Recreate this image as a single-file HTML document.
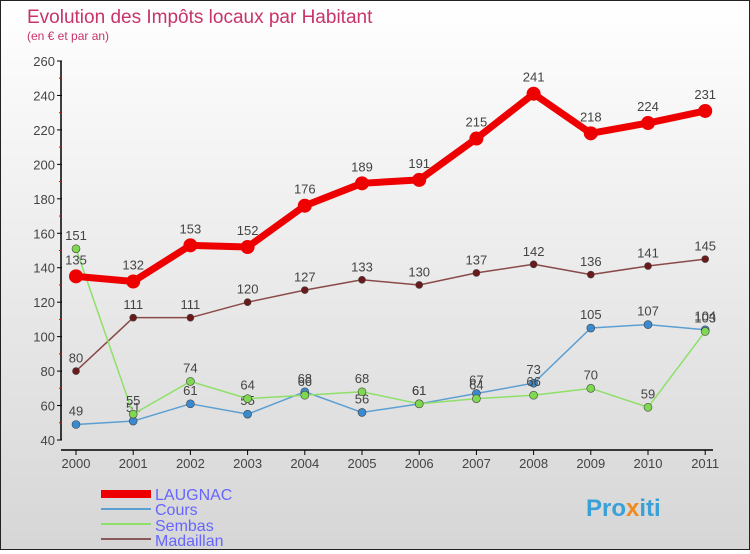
<!DOCTYPE html>
<html><head><meta charset="utf-8"><style>
body{margin:0;width:750px;height:550px;overflow:hidden;font-family:"Liberation Sans",sans-serif}
#wrap{position:relative;width:748px;height:548px;border:1px solid #222;background:linear-gradient(#ffffff,#d6d6d6)}
svg text{font-family:"Liberation Sans",sans-serif}
</style></head><body>
<div id="wrap">
<svg id="chart" width="748" height="548">
<text x="26" y="22" font-size="19" fill="#c8336a">Evolution des Impôts locaux par Habitant</text>
<text x="26" y="39" font-size="12" fill="#c8336a">(en € et par an)</text>
<rect x="100" y="489" width="50" height="8" fill="#e00"/>
<text x="154" y="499" font-size="16" fill="#6666ff">LAUGNAC</text>
<rect x="100" y="507" width="50" height="2" fill="#5c9fd2"/>
<text x="154" y="514" font-size="16" fill="#6666ff">Cours</text>
<rect x="100" y="522" width="50" height="2" fill="#8ee068"/>
<text x="154" y="530" font-size="16" fill="#6666ff">Sembas</text>
<rect x="100" y="537" width="50" height="2" fill="#8a5a5a"/>
<text x="154" y="545" font-size="16" fill="#6666ff">Madaillan</text>
<text x="585" y="515" font-size="24" font-weight="bold" fill="#3aa0d8">Pro<tspan fill="#f08a1c">x</tspan>iti</text>
</svg></div>
<script>
const years=["2000","2001","2002","2003","2004","2005","2006","2007","2008","2009","2010","2011"];
const laugnac=[135,132,153,152,176,189,191,215,241,218,224,231];
const cours=[49,51,61,55,68,56,61,67,73,105,107,104];
const sembas=[151,55,74,64,66,68,61,64,66,70,59,103];
const madaillan=[80,111,111,120,127,133,130,137,142,136,141,145];
const yTicks=[40,60,80,100,120,140,160,180,200,220,240,260];
const NS="http://www.w3.org/2000/svg";
const svg=document.getElementById('chart');
const X=i=>75+i*57.2;
const Y=v=>439-(v-40)*(379/220);
function mk(t,a){const e=document.createElementNS(NS,t);for(const k in a)e.setAttribute(k,a[k]);svg.appendChild(e);return e;}
let ax=mk('line',{x1:60,y1:Y(260),x2:60,y2:439,stroke:'#000','stroke-width':1.5});


let xa=mk('line',{x1:60,y1:449,x2:712,y2:449,stroke:'#000','stroke-width':1.5});


yTicks.forEach((v,i)=>{
  mk('line',{x1:56,y1:Y(v),x2:61,y2:Y(v),stroke:'#000'});
  if(i<yTicks.length-1)mk('line',{x1:58,y1:Y(v+10),x2:61,y2:Y(v+10),stroke:'#e00'});
  const t=mk('text',{x:54,y:Y(v)+5,'font-size':13,fill:'#444','text-anchor':'end'});
  t.textContent=v;
  
  
});
years.forEach((y,i)=>{
  mk('line',{x1:X(i),y1:449,x2:X(i),y2:454,stroke:'#000'});
  const t=mk('text',{x:X(i),y:467,'font-size':13,fill:'#444','text-anchor':'middle'});
  t.textContent=y;
  
  
});
function series(data,color,w,r,fill,name){
  const p=mk('polyline',{points:data.map((v,i)=>X(i)+','+Y(v)).join(' '),fill:'none',stroke:color,'stroke-width':w,'stroke-linejoin':'round'});
  
  
  data.forEach((v,i)=>{
    const c=mk('circle',{cx:X(i),cy:Y(v),r:r,fill:fill,stroke:'#444','stroke-width':r>5?0:0.6});
    
    
    const t=mk('text',{x:X(i),y:Y(v)-r-5,'font-size':13,fill:'#444','text-anchor':'middle'});
    t.textContent=v;
    
    
  });
}
series(madaillan,'#8a4a4a',1.5,3.5,'#6a1a1a','madaillan');
series(cours,'#5c9fd2',1.5,4,'#3a8ad0','cours');
series(sembas,'#8ee068',1.5,4,'#7ed850','sembas');
series(laugnac,'#e00',7,7,'#e00','laugnac');
</script>
</body></html>
